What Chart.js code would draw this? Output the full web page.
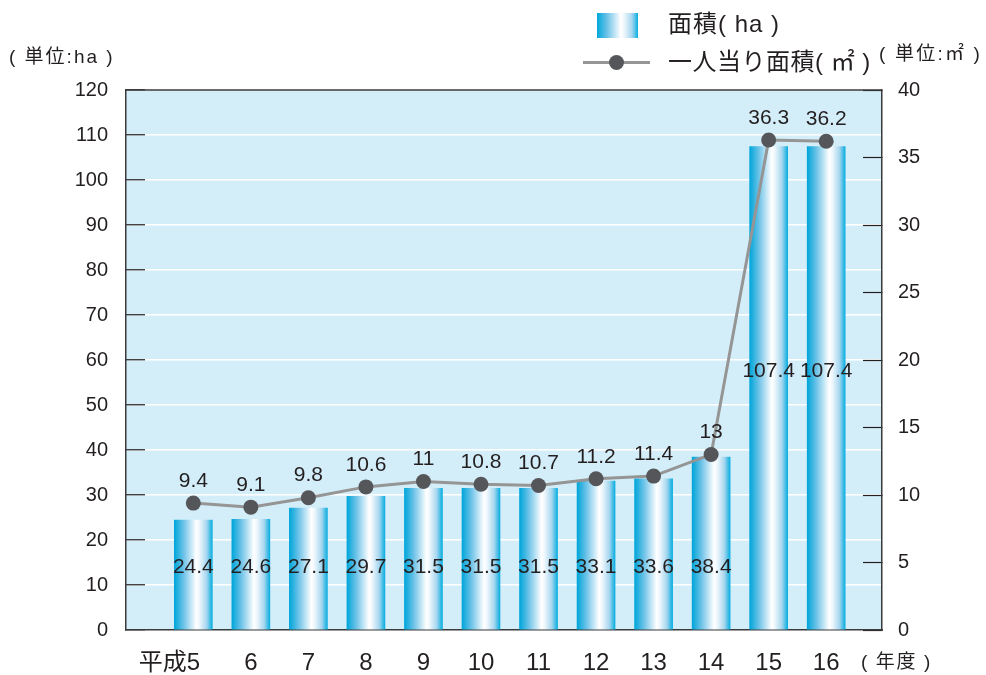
<!DOCTYPE html>
<html>
<head>
<meta charset="utf-8">
<script src="https://cdn.jsdelivr.net/npm/chart.js@4.4.1/dist/chart.umd.min.js"></script>
<style>
  html, body { margin: 0; padding: 0; background: #fff; }
  #wrap { position: relative; width: 986px; height: 675px; font-family: "Liberation Sans", "Noto Sans CJK JP", sans-serif; color: #231f20; }
  canvas { position: absolute; left: 0; top: 0; }
  .t { position: absolute; white-space: pre; line-height: 1; }
  .sw { position: absolute; left: 597px; top: 13px; width: 41px; height: 25px;
        background: linear-gradient(to right, #00a6da 0%, #6fc3e8 25%, #ffffff 58%, #eef7fc 66%, #a6d6ef 85%, #0aaee0 100%); }
  .ll { position: absolute; left: 583px; top: 61px; width: 67px; height: 3px; background: #959595; }
  .ld { position: absolute; left: 609px; top: 55px; width: 15px; height: 15px; border-radius: 50%; background: #55565a; }
</style>
</head>
<body>
<div id="wrap">
  <canvas id="c" width="986" height="675"></canvas>
  <div class="sw"></div>
  <div class="t" style="left:668px; top:12px; font-size:24px; letter-spacing:1px;">面積( ha )</div>
  <div class="ll"></div>
  <div class="ld"></div>
  <div class="t" style="left:668px; top:50px; font-size:24px; letter-spacing:0.5px;">一人当り面積( ㎡ )</div>
  <div class="t" style="left:879px; top:44px; font-size:19px; letter-spacing:2.2px;">( 単位:㎡ )</div>
  <div class="t" style="left:9px; top:47px; font-size:19px; letter-spacing:2px;">( 単位:ha )</div>
  <div class="t" style="left:861px; top:652px; font-size:19px; letter-spacing:1.6px;">( 年度 )</div>
</div>
<script>
// ---- data ----
const categories = ['平成5', '6', '7', '8', '9', '10', '11', '12', '13', '14', '15', '16'];
const areaHa = [24.4, 24.6, 27.1, 29.7, 31.5, 31.5, 31.5, 33.1, 33.6, 38.4, 107.4, 107.4];
const perPersonM2 = [9.4, 9.1, 9.8, 10.6, 11, 10.8, 10.7, 11.2, 11.4, 13, 36.3, 36.2];
const leftTicks = [0, 120, 10];   // min, max, step
const rightTicks = [0, 40, 5];

const BAR_W = 38;
const FONT = '"Liberation Sans", "Noto Sans CJK JP", sans-serif';

function barGradient(ctx) {
  const chart = ctx.chart;
  if (!chart.chartArea || ctx.dataIndex === undefined) return '#29b0e0';
  const xs = chart.scales.x;
  const cx = xs.getPixelForValue(ctx.dataIndex);
  const g = chart.ctx.createLinearGradient(cx - BAR_W / 2, 0, cx + BAR_W / 2, 0);
  g.addColorStop(0, '#00a6da');
  g.addColorStop(0.25, '#6fc3e8');
  g.addColorStop(0.58, '#ffffff');
  g.addColorStop(0.66, '#eef7fc');
  g.addColorStop(0.85, '#a6d6ef');
  g.addColorStop(1, '#0aaee0');
  return g;
}

const frame = {
  id: 'frame',
  beforeDraw(chart) {
    const { ctx, chartArea: a } = chart;
    ctx.save();
    ctx.fillStyle = '#d4eef9';
    ctx.fillRect(a.left, a.top, a.right - a.left, a.bottom - a.top);
    ctx.restore();
  },
  afterDraw(chart) {
    const { ctx, chartArea: a } = chart;
    ctx.save();
    ctx.strokeStyle = '#3a3a3a';
    ctx.lineWidth = 1.5;
    ctx.beginPath();
    ctx.moveTo(a.left, a.top);
    ctx.lineTo(a.right, a.top);
    ctx.stroke();
    ctx.restore();
  }
};

const valueLabels = {
  id: 'valueLabels',
  afterDatasetsDraw(chart) {
    const { ctx } = chart;
    const ys = chart.scales.y;
    ctx.save();
    ctx.fillStyle = '#231f20';
    ctx.textAlign = 'center';
    ctx.textBaseline = 'middle';
    ctx.font = '21px ' + FONT;
    const barMeta = chart.getDatasetMeta(1);
    barMeta.data.forEach((el, i) => {
      const v = areaHa[i];
      const yv = v > 50 ? v * 0.535 : 14;
      ctx.fillText(String(v), el.x, ys.getPixelForValue(yv));
    });
    const lineMeta = chart.getDatasetMeta(0);
    lineMeta.data.forEach((el, i) => {
      ctx.fillText(String(perPersonM2[i]), el.x, el.y - 22);
    });
    ctx.restore();
  }
};

function fixY(width) {
  return (scale) => { scale.width = width; scale.paddingTop = 0; scale.paddingBottom = 0; };
}

new Chart(document.getElementById('c'), {
  data: {
    datasets: [
      {
        type: 'line',
        label: '一人当り面積( ㎡ )',
        data: perPersonM2.map((v, i) => ({ x: i, y: v })),
        yAxisID: 'y2',
        borderColor: '#959595',
        borderWidth: 3,
        pointRadius: 7.5,
        pointHoverRadius: 7.5,
        pointBackgroundColor: '#55565a',
        pointBorderWidth: 0,
        tension: 0,
        order: 0
      },
      {
        type: 'bar',
        label: '面積( ha )',
        data: areaHa.map((v, i) => ({ x: i, y: v })),
        yAxisID: 'y',
        backgroundColor: barGradient,
        barThickness: BAR_W,
        borderWidth: 0,
        order: 1
      }
    ]
  },
  options: {
    responsive: false,
    animation: false,
    events: [],
    layout: { padding: { top: 90, left: 0, right: 0, bottom: 0 } },
    plugins: { legend: { display: false }, tooltip: { enabled: false } },
    scales: {
      x: {
        type: 'linear',
        offset: false,
        min: -1.17,
        max: 11.97,
        afterBuildTicks(scale) { scale.ticks = categories.map((_, i) => ({ value: i })); },
        afterFit(scale) { scale.height = 45; scale.paddingLeft = 0; scale.paddingRight = 0; },
        ticks: {
          autoSkip: false,
          maxRotation: 0,
          padding: 19,
          font: { size: 24, family: FONT },
          color: '#231f20',
          callback: (v) => {
            const s = categories[v];
            return s === undefined ? '' : (s.length > 2 && isNaN(s[0]) ? s + '\u3000\u3000' : s);
          }
        },
        grid: { display: true, offset: false, drawOnChartArea: false, drawTicks: false },
        border: { display: true, color: '#3a3a3a', width: 1.5 }
      },
      y: {
        type: 'linear',
        position: 'left',
        min: leftTicks[0],
        max: leftTicks[1],
        afterFit: fixY(126),
        ticks: { stepSize: leftTicks[2], padding: 37, font: { size: 20, family: FONT }, color: '#231f20' },
        grid: { color: '#ffffff', lineWidth: 1.5, tickLength: -19, tickColor: '#231f20', tickWidth: 1.2 },
        border: { display: true, color: '#3a3a3a', width: 1.5 }
      },
      y2: {
        type: 'linear',
        position: 'right',
        min: rightTicks[0],
        max: rightTicks[1],
        afterFit: fixY(104),
        ticks: { stepSize: rightTicks[2], padding: 35, font: { size: 20, family: FONT }, color: '#231f20' },
        grid: { drawOnChartArea: false, tickLength: -19, tickColor: '#231f20', tickWidth: 1.2 },
        border: { display: true, color: '#3a3a3a', width: 1.5 }
      }
    }
  },
  plugins: [frame, valueLabels]
});
</script>
</body>
</html>
